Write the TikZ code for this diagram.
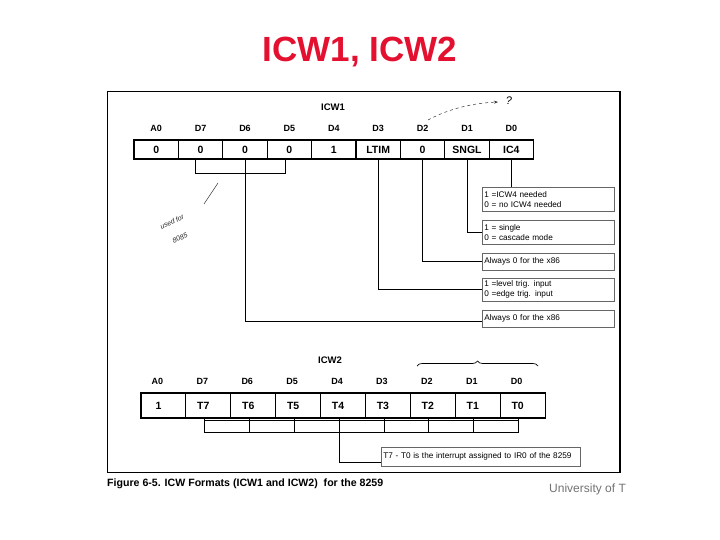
\documentclass[tikz,border=0pt]{standalone}
\usepackage{fontspec}
\setmainfont{Liberation Sans}
\usetikzlibrary{decorations.pathreplacing,arrows.meta}
\definecolor{titlered}{RGB}{228,16,48}
\begin{document}
\begin{tikzpicture}[x=1pt,y=-1pt,
  cellA/.style={draw, line width=1.1pt, minimum width=44.4pt, minimum height=19pt, inner sep=0pt, font=\fontsize{10.5}{12}\selectfont\bfseries},
  cellB/.style={draw, line width=1.1pt, minimum width=44.9pt, minimum height=25pt, inner sep=0pt},
  celltxt/.style={inner sep=0pt, font=\fontsize{10.5}{12}\selectfont\bfseries},
  bitlbl/.style={inner sep=0pt, font=\fontsize{9}{10}\selectfont\bfseries},
  regname/.style={inner sep=0pt, font=\fontsize{9.5}{11}\selectfont\bfseries},
  desc/.style={draw=black!60, line width=0.5pt, anchor=north west, minimum width=132pt, text width=128pt, inner xsep=2pt, inner ysep=1pt, align=left, font=\fontsize{8.2}{10}\selectfont},
  wire/.style={line width=0.9pt},
  hand/.style={line width=0.5pt, black!80},
  handtxt/.style={inner sep=0pt, rotate=25, font=\fontsize{7}{8}\selectfont\itshape, black!85}
]
\useasboundingbox[fill=white] (0,0) rectangle (720,540);

% title
\node[anchor=base, inner sep=0pt, font=\fontsize{35}{40}\selectfont\bfseries, text=titlered] (title) at (360,62) {ICW1, ICW2};

% frame
\draw[line width=0.8pt] (107,91) rectangle (620,472);
\draw[line width=1.6pt] (620,91) -- (620,472);

% ICW1
\node[regname] (icw1) at (333,107) {ICW1};
\foreach \i/\b/\t in {0/A0/0,1/D7/0,2/D6/0,3/D5/0,4/D4/1,5/D3/LTIM,6/D2/0,7/D1/SNGL,8/D0/IC4}{
  \node[cellA] (r1c\i) at ({134+44.4*(\i+0.5)},149.5) {\t};
  \node[bitlbl] (l1c\i) at ({134+44.4*(\i+0.5)},128) {\b};
}

% ICW1 descriptions
\node[desc, minimum height=24pt] (d1) at (482,187) {1 =ICW4 needed\\0 = no ICW4 needed};
\node[desc, minimum height=24pt] (d2) at (482,220) {1 = single\\0 = cascade mode};
\node[desc, minimum height=17pt] (d3) at (482,253) {Always 0 for the x86};
\node[desc, minimum height=23pt] (d4) at (482,278) {1 =level trig. input\\0 =edge trig. input};
\node[desc, minimum height=17pt] (d5) at (482,310) {Always 0 for the x86};

\draw[wire] (r1c8.south) -- (r1c8.south |- d1.north);
\draw[wire] (r1c7.south) |- (d2.west);
\draw[wire] (r1c6.south) |- (d3.west);
\draw[wire] (r1c5.south) |- (d4.west);
\draw[wire] (r1c2.south) |- ([yshift=-3pt]d5.west);
\draw[wire] ([xshift=-5pt]r1c1.south) -- ++(0,14) -| ([xshift=-4pt]r1c3.south);

% hand-written notes
\draw[hand, dashed, -{Stealth[length=4pt]}] (428,120) .. controls (450,108) and (475,103) .. (498,102);
\node[inner sep=0pt, font=\fontsize{11}{12}\selectfont\itshape] (qm) at (509,101) {?};
\coordinate (n1) at (218,183);
\coordinate (n2) at (204,204);
\draw[hand] (n1) -- (n2);
\node[handtxt] (note1) at (172,222) {used for};
\node[handtxt] (note2) at (180,238) {8085};

% ICW2
\node[regname] (icw2) at (330,360) {ICW2};
\draw[line width=0.7pt, decorate, decoration={brace, amplitude=5pt}] (417,366) -- (538,366);
\foreach \i/\b/\t in {0/A0/1,1/D7/T7,2/D6/T6,3/D5/T5,4/D4/T4,5/D3/T3,6/D2/T2,7/D1/T1,8/D0/T0}{
  \node[cellB] (r2c\i) at ({141+44.9*(\i+0.5)},405.5) {};
  \node[celltxt] (t2c\i) at ({141+44.9*(\i+0.5)-5},405.5) {\t};
  \node[bitlbl] (l2c\i) at ({141+44.9*(\i+0.5)-6},381) {\b};
}
\foreach \i in {1,...,8}{
  \draw[wire] ([xshift=-4pt]r2c\i.south) -- ++(0,14);
}
\draw[line width=0.5pt] ([xshift=-4pt,yshift=-2pt]r2c1.south) -- ([xshift=-4pt,yshift=-2pt]r2c8.south);
\draw[wire] ([xshift=-4pt,yshift=-14pt]r2c1.south) -- ([xshift=-4pt,yshift=-14pt]r2c8.south);

\node[desc, minimum width=199pt, text width=195pt, minimum height=19pt] (d6) at (381,447) {T7 - T0 is the interrupt assigned to IR0 of the 8259};
\draw[wire] ([xshift=-4pt,yshift=-14pt]r2c4.south) |- ([yshift=-6pt]d6.west);

% caption
\node[anchor=base west, inner sep=0pt, font=\fontsize{10.6}{12}\selectfont\bfseries] (cap) at (107,486) {Figure 6-5. ICW Formats (ICW1 and ICW2)\ \ for the 8259};
\node[anchor=base west, inner sep=0pt, font=\fontsize{12}{14}\selectfont, text=black!55] (univ) at (549,492) {University of T};
\end{tikzpicture}
\end{document}
